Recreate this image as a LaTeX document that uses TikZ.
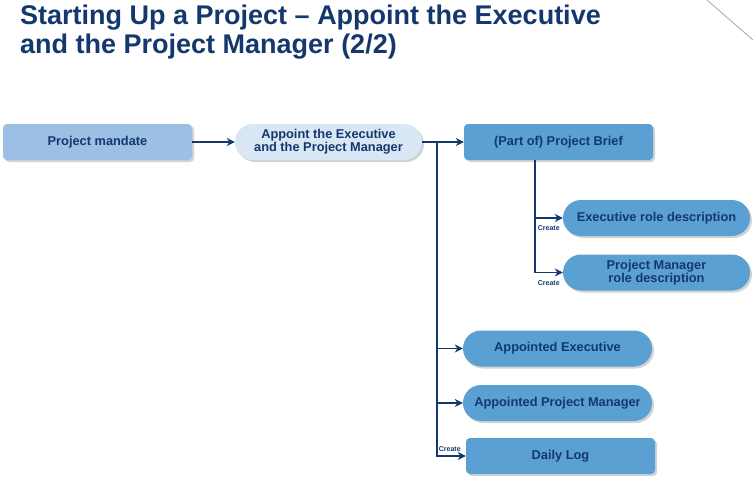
\documentclass[tikz,border=0pt]{standalone}
\usepackage{fontspec}
\setmainfont{Liberation Sans}
\usetikzlibrary{shadows,arrows.meta}
\definecolor{navy}{RGB}{20,56,110}
\definecolor{midblue}{RGB}{91,160,211}
\definecolor{lightblue}{RGB}{155,192,228}
\definecolor{paleblue}{RGB}{217,230,244}
\begin{document}
\begin{tikzpicture}[x=1pt,y=-1pt,
  box/.style={minimum width=189pt,minimum height=36pt,inner sep=0pt,align=center,
    font=\fontsize{12.8}{13}\selectfont\bfseries,text=navy,
    drop shadow={opacity=0.35,shadow xshift=2pt,shadow yshift=-2pt}},
  sqbox/.style={box,rounded corners=4pt},
  pill/.style={box,rounded corners=18pt},
  conn/.style={draw=navy,line width=1.8pt},
  arr/.style={conn,-{Stealth[length=8pt,width=8pt]}},
  createlbl/.style={font=\fontsize{7}{7}\selectfont\bfseries,text=navy,inner sep=0pt}]
\useasboundingbox (0,0) rectangle (753,485);
\draw[gray!70,line width=0.8pt] (707,0) -- (753,40);
\node[anchor=north west,align=left,text=navy,inner sep=0pt,
  font=\fontsize{27}{29}\selectfont\bfseries] (title) at (20,5)
  {Starting Up a Project – Appoint the Executive\\and the Project Manager (2/2)};
\node[sqbox,fill=lightblue] (pm) at (97.5,142) {Project mandate};
\node[pill,fill=paleblue,minimum width=187pt] (app) at (328.5,142) {Appoint the Executive\\and the Project Manager};
\node[sqbox,fill=midblue] (pb) at (558.5,142) {(Part of) Project Brief};
\node[pill,fill=midblue,minimum width=187pt] (er) at (656.5,218) {Executive role description};
\node[pill,fill=midblue,minimum width=187pt] (pmr) at (656.5,272.5) {Project Manager\\role description};
\node[pill,fill=midblue] (ae) at (557.5,348.5) {Appointed Executive};
\node[pill,fill=midblue] (apm) at (557.5,403) {Appointed Project Manager};
\node[sqbox,fill=midblue] (dl) at (560.5,456) {Daily Log};
\draw[arr] (pm.east) -- (app.west);
\draw[arr] (app.east) -- (pb.west);
\coordinate (j1) at (437,142);
\coordinate (j2) at (535,160);
\draw[arr] (j1) |- (ae.west);
\draw[arr] (j1) |- (apm.west);
\draw[arr] (j1) |- (dl.west) node[createlbl,pos=0.5,anchor=south west,xshift=1pt,yshift=4pt] (c3) {Create};
\draw[arr] (j2) |- (er.west) node[createlbl,pos=0.5,anchor=north west,xshift=2pt,yshift=-7pt] (c1) {Create};
\draw[arr] (j2) |- (pmr.west) node[createlbl,pos=0.5,anchor=north west,xshift=2pt,yshift=-7pt] (c2) {Create};
\end{tikzpicture}
\end{document}
